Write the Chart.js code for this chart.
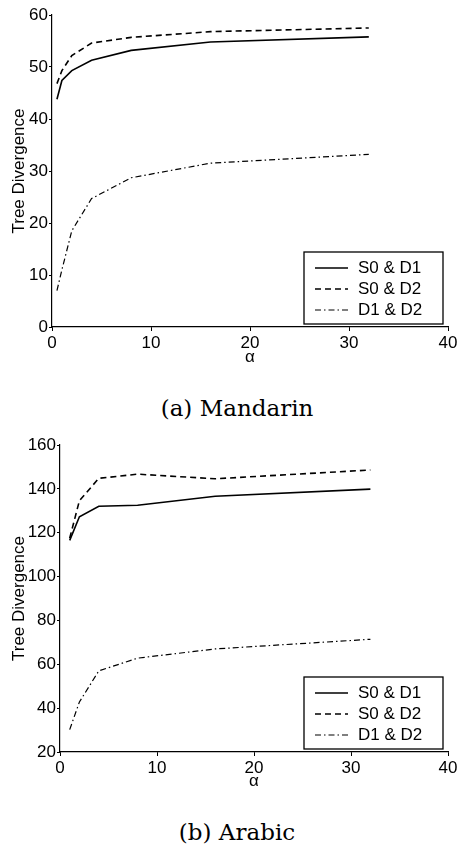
<!DOCTYPE html>
<html>
<head>
<meta charset="utf-8">
<script src="https://cdn.jsdelivr.net/npm/chart.js@4/dist/chart.umd.min.js"></script>
<style>
  body { margin: 0; background: #fff; width: 460px; height: 846px; position: relative; overflow: hidden; }
  canvas { position: absolute; left: 0; }
  .caption { position: absolute; left: 0; width: 474px; text-align: center; font-family: "DejaVu Serif", serif; font-size: 23px; line-height: 28px; color: #000; }
</style>
</head>
<body>
<canvas id="mandarin" width="460" height="372" style="top:0px"></canvas>
<div class="caption" style="top:394px">(a) Mandarin</div>
<canvas id="arabic" width="460" height="366" style="top:430px"></canvas>
<div class="caption" style="top:818px">(b) Arabic</div>
<script>
// values
var seriesLabels = ['S0 & D1', 'S0 & D2', 'D1 & D2'];

var mandarinAlpha = [0.5, 1, 2, 4, 8, 16, 32];
var mandarinS0D1 = [43.8, 47.4, 49.3, 51.3, 53.2, 54.8, 55.8];
var mandarinS0D2 = [46.8, 49.3, 52.2, 54.6, 55.7, 56.8, 57.5];
var mandarinD1D2 = [7.0, 11.0, 18.5, 24.7, 28.7, 31.5, 33.2];

var arabicAlpha = [1, 2, 4, 8, 16, 32];
var arabicS0D1 = [116.5, 127.3, 132.1, 132.5, 136.6, 139.9];
var arabicS0D2 = [117.5, 134.6, 144.8, 146.7, 144.6, 148.6];
var arabicD1D2 = [30.2, 42.8, 57.0, 62.8, 67.0, 71.4];

var xTicks = [0, 10, 20, 30, 40];
var mandarinYTicks = [0, 10, 20, 30, 40, 50, 60];
var arabicYTicks = [20, 40, 60, 80, 100, 120, 140, 160];

var lineStyles = [
    { borderDash: [], borderWidth: 1.6 },
    { borderDash: [6, 4], borderWidth: 1.6 },
    { borderDash: [6, 3, 1.5, 3], borderWidth: 1.2 }
];

function points(xs, ys) {
    return xs.map(function (x, i) { return { x: x, y: ys[i] }; });
}

// legend box drawn inside the plot, bottom right
var insideLegend = {
    id: 'insideLegend',
    afterDraw: function (chart) {
        var a = chart.chartArea, ctx = chart.ctx;
        var w = 139, h = 72;
        var x0 = a.right - 5 - w, y0 = a.bottom - 3 - h;
        ctx.save();
        ctx.fillStyle = '#fff';
        ctx.fillRect(x0, y0, w, h);
        ctx.strokeStyle = '#000';
        ctx.lineWidth = 1.3;
        ctx.strokeRect(x0, y0, w, h);
        ctx.font = '17px "Liberation Sans", Arial, sans-serif';
        ctx.textBaseline = 'middle';
        ctx.fillStyle = '#000';
        chart.data.datasets.forEach(function (ds, i) {
            var y = y0 + 16 + i * 21;
            ctx.setLineDash(ds.borderDash || []);
            ctx.lineWidth = ds.borderWidth;
            ctx.beginPath();
            ctx.moveTo(x0 + 11, y);
            ctx.lineTo(x0 + 44, y);
            ctx.stroke();
            ctx.setLineDash([]);
            ctx.fillText(ds.label, x0 + 54, y);
        });
        ctx.restore();
    }
};

function makeChart(id, alpha, series, yTicks, yWidth, xHeight) {
    var font = { family: '"Liberation Sans", Arial, sans-serif', size: 17 };
    var datasets = series.map(function (ys, i) {
        return {
            label: seriesLabels[i],
            data: points(alpha, ys),
            borderColor: '#000',
            borderWidth: lineStyles[i].borderWidth,
            borderDash: lineStyles[i].borderDash,
            pointRadius: 0,
            tension: 0,
            fill: false
        };
    });
    return new Chart(document.getElementById(id).getContext('2d'), {
        type: 'line',
        data: { datasets: datasets },
        options: {
            responsive: false,
            animation: false,
            layout: { padding: { top: 15, right: 12, left: 0, bottom: 0 } },
            plugins: { legend: { display: false }, tooltip: { enabled: false } },
            scales: {
                x: {
                    type: 'linear',
                    min: xTicks[0],
                    max: xTicks[xTicks.length - 1],
                    afterBuildTicks: function (s) { s.ticks = xTicks.map(function (v) { return { value: v }; }); },
                    afterFit: function (s) { s.height = xHeight; },
                    grid: { drawOnChartArea: false, color: '#000', tickLength: 4, lineWidth: 1 },
                    border: { color: '#000', width: 1.2 },
                    ticks: { color: '#000', font: font, padding: 2, maxRotation: 0 },
                    title: { display: true, text: 'α', color: '#000', font: font, padding: { top: 0, bottom: 4 } }
                },
                y: {
                    min: yTicks[0],
                    max: yTicks[yTicks.length - 1],
                    afterBuildTicks: function (s) { s.ticks = yTicks.map(function (v) { return { value: v }; }); },
                    afterFit: function (s) { s.width = yWidth; },
                    grid: { drawOnChartArea: false, color: '#000', tickLength: 3, lineWidth: 1 },
                    border: { color: '#000', width: 1.2 },
                    ticks: { color: '#000', font: font, padding: 1 },
                    title: { display: true, text: 'Tree Divergence', color: '#000', font: font, padding: { top: 9, bottom: 0 } }
                }
            }
        },
        plugins: [insideLegend]
    });
}

makeChart('mandarin', mandarinAlpha, [mandarinS0D1, mandarinS0D2, mandarinD1D2], mandarinYTicks, 52, 45);
makeChart('arabic', arabicAlpha, [arabicS0D1, arabicS0D2, arabicD1D2], arabicYTicks, 60, 44);
</script>
</body>
</html>
